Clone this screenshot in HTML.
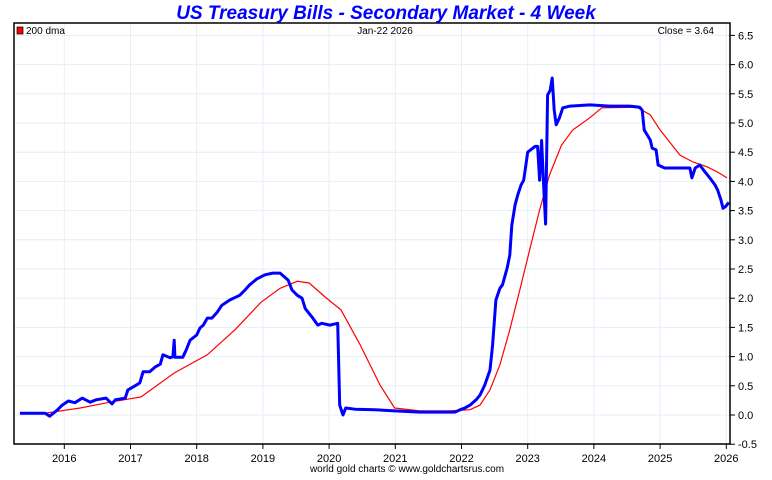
<!DOCTYPE html>
<html><head><meta charset="utf-8"><style>
body{margin:0;background:#fff;width:772px;height:475px;overflow:hidden;font-family:"Liberation Sans",sans-serif}
</style></head><body>
<svg id="c" width="772" height="475" font-family="Liberation Sans, sans-serif"></svg>
<script>
const blueYears=[2015.33,2015.71,2015.78,2015.89,2015.97,2016.06,2016.16,2016.27,2016.39,2016.48,2016.63,2016.72,2016.77,2016.92,2016.96,2017.07,2017.14,2017.19,2017.29,2017.37,2017.45,2017.49,2017.60,2017.64,2017.66,2017.67,2017.79,2017.84,2017.90,2018.00,2018.05,2018.10,2018.16,2018.23,2018.31,2018.38,2018.50,2018.65,2018.73,2018.80,2018.91,2019.03,2019.15,2019.26,2019.38,2019.44,2019.52,2019.59,2019.64,2019.74,2019.83,2019.89,2020.01,2020.13,2020.16,2020.21,2020.25,2020.39,2020.69,2020.99,2021.37,2021.90,2021.98,2022.05,2022.13,2022.22,2022.28,2022.35,2022.43,2022.47,2022.52,2022.58,2022.62,2022.69,2022.73,2022.76,2022.81,2022.85,2022.90,2022.94,2023.00,2023.11,2023.15,2023.18,2023.21,2023.24,2023.27,2023.30,2023.34,2023.37,2023.40,2023.43,2023.48,2023.53,2023.64,2023.94,2024.24,2024.54,2024.69,2024.73,2024.76,2024.85,2024.88,2024.94,2024.97,2025.07,2025.45,2025.48,2025.53,2025.60,2025.68,2025.75,2025.83,2025.87,2025.92,2025.95,2025.99,2026.04];
const blueValues=[0.03,0.03,-0.02,0.08,0.17,0.24,0.21,0.29,0.22,0.26,0.29,0.19,0.26,0.29,0.43,0.50,0.55,0.74,0.74,0.82,0.87,1.03,0.98,1.00,1.28,0.99,0.99,1.11,1.28,1.37,1.49,1.54,1.66,1.66,1.76,1.88,1.97,2.05,2.14,2.23,2.33,2.40,2.43,2.43,2.31,2.14,2.05,2.00,1.82,1.68,1.54,1.57,1.54,1.57,0.17,0.00,0.12,0.10,0.09,0.07,0.05,0.05,0.09,0.12,0.17,0.26,0.34,0.51,0.77,1.20,1.97,2.17,2.23,2.52,2.74,3.25,3.60,3.77,3.94,4.02,4.50,4.60,4.60,4.02,4.70,3.94,3.27,5.48,5.56,5.77,5.22,4.97,5.09,5.26,5.29,5.31,5.29,5.29,5.27,5.22,4.88,4.71,4.57,4.54,4.28,4.23,4.23,4.06,4.23,4.28,4.16,4.06,3.94,3.85,3.68,3.54,3.57,3.64];
const redYears=[2015.71,2016.24,2016.69,2017.16,2017.66,2018.16,2018.58,2018.97,2019.26,2019.52,2019.70,2019.94,2020.18,2020.47,2020.77,2020.99,2021.37,2021.83,2022.13,2022.28,2022.43,2022.58,2022.73,2022.88,2023.03,2023.18,2023.33,2023.51,2023.68,2023.94,2024.12,2024.65,2024.85,2025.00,2025.30,2025.50,2025.71,2025.87,2026.01];
const redValues=[0.03,0.12,0.22,0.31,0.72,1.03,1.46,1.93,2.17,2.29,2.26,2.02,1.80,1.20,0.51,0.12,0.07,0.07,0.09,0.17,0.43,0.86,1.46,2.14,2.83,3.51,4.11,4.62,4.88,5.09,5.26,5.27,5.14,4.88,4.45,4.33,4.25,4.16,4.06];
const yearTicks=[2016,2017,2018,2019,2020,2021,2022,2023,2024,2025,2026];
const valueTicks=[-0.5,0.0,0.5,1.0,1.5,2.0,2.5,3.0,3.5,4.0,4.5,5.0,5.5,6.0,6.5];

const L=14,R=730,T=23,B=444;
const xs=y=>64.3+(y-2016)*66.2;
const ys=v=>415-v*58.4;
const svg=document.getElementById('c');
const NS='http://www.w3.org/2000/svg';
function mk(tag,attrs,parent){const e=document.createElementNS(NS,tag);for(const k in attrs)e.setAttribute(k,attrs[k]);(parent||svg).appendChild(e);return e;}

let g=mk('g',{});


valueTicks.forEach(v=>{const l=mk('line',{x1:L,x2:R,y1:ys(v),y2:ys(v),stroke:'#e4eef7','stroke-width':1},g);

});
yearTicks.forEach(y=>{const l=mk('line',{x1:xs(y),x2:xs(y),y1:T,y2:B,stroke:'#e4eef7','stroke-width':1},g);

});

function pts(xa,va){return xa.map((x,i)=>xs(x).toFixed(1)+','+ys(va[i]).toFixed(1)).join(' ');}
const red=mk('polyline',{points:pts(redYears,redValues),fill:'none',stroke:'#ff0000','stroke-width':1.2});


const blue=mk('polyline',{points:pts(blueYears,blueValues),fill:'none',stroke:'#0000ff','stroke-width':3,'stroke-linejoin':'round'});



const fr=mk('rect',{x:L,y:T,width:R-L,height:B-T,fill:'none',stroke:'#000','stroke-width':1.5});



valueTicks.forEach(v=>{
 mk('line',{x1:R,x2:R+5,y1:ys(v),y2:ys(v),stroke:'#000'});
 const t=mk('text',{x:R+8,y:ys(v)+4,'font-size':11,fill:'#000'});t.textContent=v.toFixed(1);
 
 
});
yearTicks.forEach(y=>{
 mk('line',{x1:xs(y),x2:xs(y),y1:B,y2:B+5,stroke:'#000'});
 const t=mk('text',{x:xs(y),y:B+18,'font-size':11,'text-anchor':'middle',fill:'#000'});t.textContent=y;
 
 
});

const title=mk('text',{x:386,y:19,'font-size':19,'font-weight':'bold','font-style':'italic','text-anchor':'middle',fill:'#0000ff'});
title.textContent='US Treasury Bills - Secondary Market - 4 Week';



const sw=mk('rect',{x:17,y:27,width:6,height:7,fill:'#ff0000',stroke:'#000','stroke-width':0.7});


const lg=mk('text',{x:26,y:34,'font-size':10,fill:'#000'});lg.textContent='200 dma';


const dt=mk('text',{x:385,y:34,'font-size':10,'text-anchor':'middle',fill:'#000'});dt.textContent='Jan-22  2026';


const cl=mk('text',{x:714,y:34,'font-size':10,'text-anchor':'end',fill:'#000'});cl.textContent='Close = 3.64';


const ft=mk('text',{x:407,y:472,'font-size':10,'text-anchor':'middle',fill:'#000'});ft.textContent='world gold charts © www.goldchartsrus.com';


</script>
</body></html>
